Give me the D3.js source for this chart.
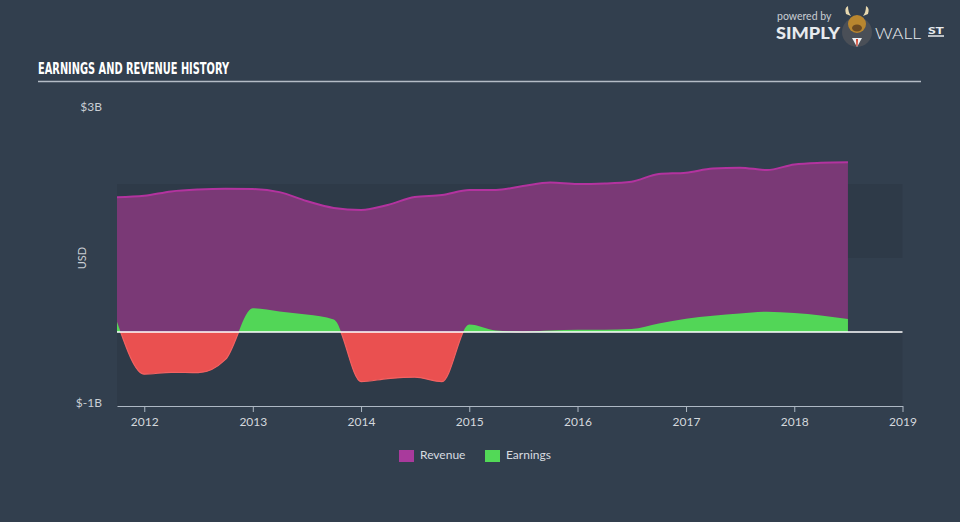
<!DOCTYPE html>
<html><head><meta charset="utf-8">
<script src="https://cdn.jsdelivr.net/npm/d3@7"></script>
<style>body{margin:0;background:#323f4e;} svg{display:block}</style>
</head><body><svg id="c" width="960" height="522"></svg>
<script>
const dates = ["2011-10-01","2012-01-01","2012-04-01","2012-07-01","2012-10-01","2013-01-01","2013-04-01","2013-07-01","2013-10-01","2014-01-01","2014-04-01","2014-07-01","2014-10-01","2015-01-01","2015-04-01","2015-07-01","2015-10-01","2016-01-01","2016-04-01","2016-07-01","2016-10-01","2017-01-01","2017-04-01","2017-07-01","2017-10-01","2018-01-01","2018-04-01","2018-07-01"];
const revenue = [1.82,1.84,1.90,1.926,1.936,1.932,1.89,1.77,1.676,1.649,1.716,1.824,1.851,1.919,1.919,1.973,2.02,2.0,2.007,2.031,2.135,2.153,2.209,2.22,2.189,2.264,2.286,2.293];
const earnings = [0.14,-0.57,-0.545,-0.55,-0.37,0.32,0.277,0.236,0.17,-0.67,-0.63,-0.61,-0.67,0.10,0.02,0.004,0.02,0.03,0.03,0.04,0.115,0.18,0.22,0.25,0.274,0.257,0.223,0.176];
const yTickValues = [3, -1];
const yTickLabels = ["$3B", "$-1B"];
const xTickYears = ["2012","2013","2014","2015","2016","2017","2018","2019"];
const seriesNames = ["Revenue", "Earnings"];
const seriesColors = ["#a93a9c", "#52d957"];

const svg = d3.select("#c");
const parse = d3.timeParse("%Y-%m-%d");
const pts = dates.map((d, i) => ({date: parse(d), rev: revenue[i], earn: earnings[i]}));

const x = d3.scaleTime().domain([parse("2011-10-01"), parse("2019-01-01")]).range([117, 902.5]);
const y = d3.scaleLinear().domain([-1, 3]).range([406, 110]);

// background
svg.append("rect").attr("width", 960).attr("height", 522).attr("fill", "#323f4e");

// bands
const bands = [[2, 1], [0, -1]];
svg.selectAll("rect.band").data(bands).enter().append("rect")
  .attr("class", "band")
  .attr("x", x.range()[0]).attr("width", x.range()[1] - x.range()[0])
  .attr("y", d => y(d[0])).attr("height", d => y(d[1]) - y(d[0]))
  .attr("fill", "#2e3a48");

// title
svg.append("text").attr("x", 38).attr("y", 74)
  .attr("font-family", "DejaVu Sans Condensed, Liberation Sans Narrow, sans-serif")
  .attr("font-weight", "bold").attr("font-size", 16).attr("fill", "#ffffff")
  .attr("textLength", 191).attr("lengthAdjust", "spacingAndGlyphs")
  .text("EARNINGS AND REVENUE HISTORY");
svg.append("line").attr("x1", 38).attr("x2", 921).attr("y1", 81.5).attr("y2", 81.5)
  .attr("stroke", "#b4bcc6").attr("stroke-width", 1.5);

// logo
const logo = svg.append("g");
logo.append("text").attr("x", 777).attr("y", 20).attr("font-family", "Lato, sans-serif")
  .attr("font-size", 10.5).attr("fill", "#c9ced4").text("powered by");
logo.append("text").attr("x", 776).attr("y", 39).attr("font-family", "Lato, sans-serif")
  .attr("font-weight", "900").attr("font-size", 16).attr("fill", "#e8ebee")
  .attr("textLength", 64).attr("lengthAdjust", "spacingAndGlyphs").text("SIMPLY");
logo.append("circle").attr("cx", 857).attr("cy", 32).attr("r", 15).attr("fill", "#4a4f57");
logo.append("ellipse").attr("cx", 857).attr("cy", 24).attr("rx", 9).attr("ry", 9).attr("fill", "#b8862f");
logo.append("ellipse").attr("cx", 857).attr("cy", 28).attr("rx", 5).attr("ry", 3.5).attr("fill", "#6b4a22");
logo.append("path").attr("d", "M846,14 Q844,8 848,6 Q848,12 851,16 Z M868,14 Q870,8 866,6 Q866,12 863,16 Z").attr("fill", "#e8d9b0");
logo.append("path").attr("d", "M852,38 L857,47 L862,38 Z").attr("fill", "#e9eef2");
logo.append("path").attr("d", "M856,39 L858,39 L857.6,46 L856.4,46 Z").attr("fill", "#d0402c");
logo.append("text").attr("x", 875).attr("y", 39).attr("font-family", "Lato, sans-serif")
  .attr("font-weight", "300").attr("font-size", 16).attr("fill", "#e8ebee")
  .attr("textLength", 46).attr("lengthAdjust", "spacingAndGlyphs").text("WALL");
logo.append("text").attr("x", 928).attr("y", 33.5).attr("font-family", "Lato, sans-serif")
  .attr("font-weight", "900").attr("font-size", 10).attr("fill", "#e8ebee")
  .attr("textLength", 16).attr("lengthAdjust", "spacingAndGlyphs").text("ST");
logo.append("line").attr("x1", 928).attr("x2", 944).attr("y1", 36).attr("y2", 36)
  .attr("stroke", "#e8ebee").attr("stroke-width", 1.5);

// clip paths
const defs = svg.append("defs");
defs.append("clipPath").attr("id", "pos").append("rect")
  .attr("x", 0).attr("y", 0).attr("width", 960).attr("height", y(0));
defs.append("clipPath").attr("id", "neg").append("rect")
  .attr("x", 0).attr("y", y(0)).attr("width", 960).attr("height", 522 - y(0));

const curve = d3.curveMonotoneX;

// revenue area
svg.append("path").datum(pts)
  .attr("d", d3.area().x(d => x(d.date)).y0(y(0)).y1(d => y(d.rev)).curve(curve))
  .attr("fill", "#7a3976");
svg.append("path").datum(pts)
  .attr("d", d3.line().x(d => x(d.date)).y(d => y(d.rev)).curve(curve))
  .attr("fill", "none").attr("stroke", "#b3339f").attr("stroke-width", 2);

// earnings
const earnArea = d3.area().x(d => x(d.date)).y0(y(0)).y1(d => y(d.earn)).curve(curve);
svg.append("path").datum(pts).attr("d", earnArea).attr("fill", "#52d657").attr("clip-path", "url(#pos)");
svg.append("path").datum(pts).attr("d", earnArea).attr("fill", "#ea5050").attr("clip-path", "url(#neg)");
svg.append("path").datum(pts)
  .attr("d", d3.line().x(d => x(d.date)).y(d => y(d.earn)).curve(curve))
  .attr("fill", "none").attr("stroke", "#f26262").attr("stroke-width", 1.2).attr("clip-path", "url(#neg)");

// zero line
svg.append("line").attr("x1", x.range()[0]).attr("x2", x.range()[1])
  .attr("y1", y(0)).attr("y2", y(0)).attr("stroke", "#ffffff").attr("stroke-width", 1.5);

// x axis
const xAxis = d3.axisBottom(x)
  .tickValues(xTickYears.map(s => parse(s + "-01-01")))
  .tickFormat(d3.timeFormat("%Y")).tickSize(6).tickSizeOuter(0);
const gx = svg.append("g").attr("transform", `translate(0,${y(-1)})`).call(xAxis);
gx.select(".domain").attr("stroke", "#aeb8c4").attr("stroke-width", 1.2);
gx.selectAll(".tick line").attr("stroke", "#aeb8c4");
gx.selectAll(".tick text").attr("fill", "#d4d8dd").attr("font-family", "Lato, sans-serif")
  .attr("font-size", 12).attr("dy", "0.95em");

// y labels
svg.selectAll("text.ylab").data(yTickValues).enter().append("text")
  .attr("class", "ylab").attr("x", 102).attr("y", d => y(d) - 2)
  .attr("text-anchor", "end").attr("dominant-baseline", "middle")
  .attr("font-family", "Lato, sans-serif").attr("font-size", 12).attr("fill", "#c9ced4")
  .text((d, i) => yTickLabels[i]);
svg.append("text").attr("transform", "translate(83,258) rotate(-90)")
  .attr("text-anchor", "middle").attr("dominant-baseline", "middle")
  .attr("font-family", "Lato, sans-serif").attr("font-size", 11).attr("fill", "#c9ced4")
  .text("USD");

// legend
const legX = [399, 485];
const lg = svg.selectAll("g.leg").data(seriesNames).enter().append("g")
  .attr("class", "leg").attr("transform", (d, i) => `translate(${legX[i]},450)`);
lg.append("rect").attr("width", 15).attr("height", 12).attr("fill", (d, i) => seriesColors[i]);
lg.append("text").attr("x", 21).attr("y", 6).attr("dominant-baseline", "middle")
  .attr("font-family", "Lato, sans-serif").attr("font-size", 12).attr("fill", "#d8dce0")
  .text(d => d);
</script></body></html>
